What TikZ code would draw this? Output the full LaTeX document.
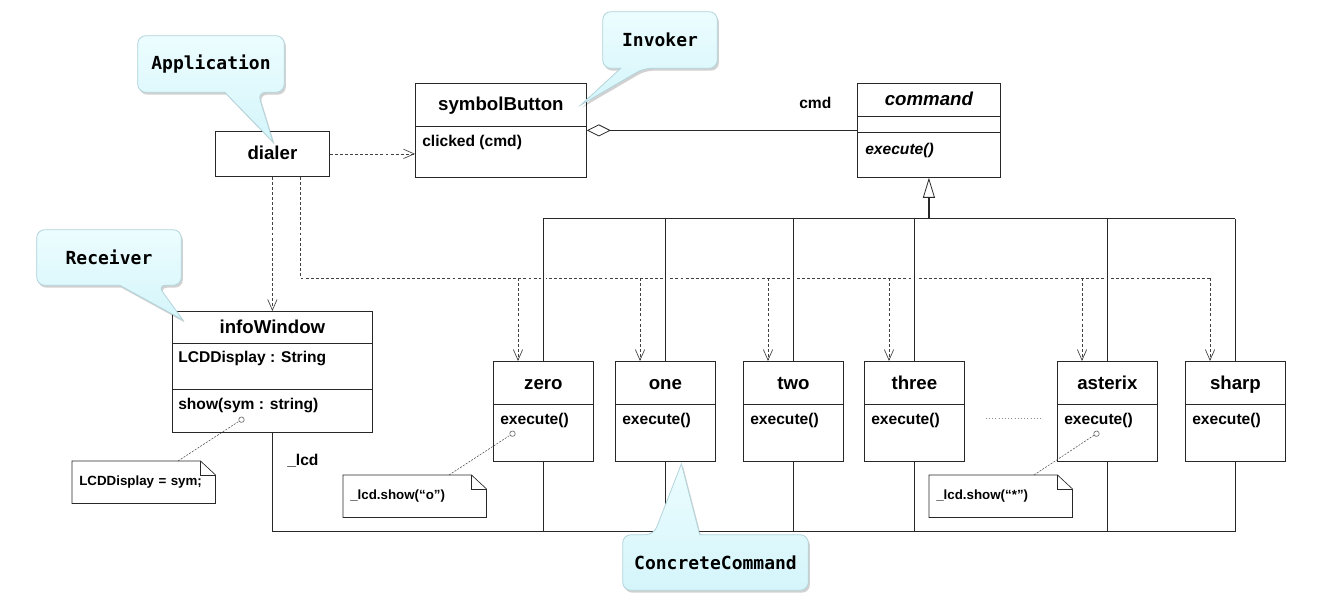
\documentclass[tikz,border=0pt]{standalone}
\usepackage{fontspec}
\setmainfont{Liberation Sans}
\newfontfamily\calloutfont{DejaVu Sans Mono}
\usetikzlibrary{arrows.meta,calc,shadows}

\definecolor{linecol}{RGB}{40,40,40}
\definecolor{calltop}{RGB}{236,253,255}
\definecolor{callbot}{RGB}{212,245,250}
\definecolor{callrim}{RGB}{178,212,218}

\tikzset{
  classbox/.style 2 args={draw=linecol, line width=0.6pt, anchor=north west, inner sep=0pt,
    minimum width=#1*0.75pt, minimum height=#2*0.75pt},
  divider/.style={draw=linecol, line width=0.6pt},
  clsname/.style={inner sep=0pt, text height=11pt, text depth=2pt, font=\fontsize{14}{16}\selectfont\bfseries},
  member/.style={inner sep=0pt, anchor=west, text height=9.5pt, text depth=2.5pt, font=\fontsize{11.7}{14}\selectfont\bfseries},
  dep/.style={draw=black!75, line width=0.5pt, dash pattern=on 2.2pt off 1.6pt},
  deparrow/.style={dep, -{Straight Barb[length=8pt,width=7pt]}},
  assoc/.style={draw=linecol, line width=0.6pt},
  halo/.style={preaction={draw=white, line width=3.5pt, shorten <=2pt, shorten >=2pt}},
  notebox/.style={anchor=north west, inner xsep=5.25pt, inner ysep=0pt, text width=96.75pt,
    minimum height=31.5pt, align=left, font=\fontsize{10}{12}\selectfont\bfseries},
  noteline/.style={draw=linecol, line width=0.5pt},
  attach/.style={draw=black!70, line width=0.4pt, dash pattern=on 1.5pt off 1pt,
    -{Circle[open,length=4.5pt,width=4.5pt]}},
  callbox/.style 2 args={inner sep=0pt, minimum width=#1*0.75pt, minimum height=#2*0.75pt},
  callout/.style={top color=calltop, bottom color=callbot, draw=callrim, line width=0.6pt,
    drop shadow={shadow xshift=1.2pt, shadow yshift=-1.8pt, opacity=0.18, fill=black}},
  calltext/.style={inner sep=0pt, font=\calloutfont\fontsize{13.5}{16}\selectfont\bfseries},
}

\begin{document}
\begin{tikzpicture}[x=0.75pt, y=-0.75pt]
\path[use as bounding box] (0,0) rectangle (1330,602);

% classes
\node[classbox={114}{45}] (dialer) at (215,131) {};
\node[clsname] (dialer-title) at (dialer.center) {dialer};

\node[classbox={171}{94}] (symbolButton) at (415,83) {};
\draw[divider] ($(symbolButton.north west)+(0,43)$) -- ($(symbolButton.north east)+(0,43)$);
\node[clsname] (symbolButton-title) at ($(symbolButton.north)+(0,22)$) {symbolButton};
\node[member] (symbolButton-op) at ($(symbolButton.north west)+(7,59)$) {clicked (cmd)};

\node[classbox={143}{94}] (command) at (857,83) {};
\draw[divider] ($(command.north west)+(0,33)$) -- ($(command.north east)+(0,33)$);
\draw[divider] ($(command.north west)+(0,49)$) -- ($(command.north east)+(0,49)$);
\node[clsname, font=\fontsize{14}{16}\selectfont\bfseries\itshape] (command-title) at ($(command.north)+(0,17)$) {command};
\node[member, font=\fontsize{11.7}{14}\selectfont\bfseries\itshape] (command-op) at ($(command.north west)+(8,67)$) {execute()};

\node[classbox={200}{121}] (infoWindow) at (172,311) {};
\draw[divider] ($(infoWindow.north west)+(0,32)$) -- ($(infoWindow.north east)+(0,32)$);
\draw[divider] ($(infoWindow.north west)+(0,78)$) -- ($(infoWindow.north east)+(0,78)$);
\node[clsname] (infoWindow-title) at ($(infoWindow.north)+(0,16)$) {infoWindow};
\node[member] (infoWindow-attr) at ($(infoWindow.north west)+(6,47)$) {LCDDisplay : String};
\node[member] (infoWindow-op) at ($(infoWindow.north west)+(6,94)$) {show(sym : string)};

\foreach \name/\x in {zero/493, one/615, two/743, three/864, asterix/1057, sharp/1185} {
  \node[classbox={100}{100}] (\name) at (\x,361) {};
  \draw[divider] ($(\name.north west)+(0,43)$) -- ($(\name.north east)+(0,43)$);
  \node[clsname] (\name-title) at ($(\name.north)+(0,22)$) {\name};
  \node[member] (\name-op) at ($(\name.north west)+(7,59)$) {execute()};
}
\draw[dotted, draw=black!45] ($(three.east)+(21,7)$) -- ($(asterix.west)+(-15,7)$);

% dependencies
\draw[deparrow] (dialer.east) -- (dialer.east -| symbolButton.west);
\draw[deparrow] (dialer.south) -- (infoWindow.north);
\draw[dep] ($(dialer.south)+(28,0)$) |- ($(sharp.north west)+(25,-83)$);
\foreach \name in {zero,one,two,three,asterix,sharp}
  \draw[deparrow] ($(\name.north west)+(25,-83)$) -- ($(\name.north west)+(25,0)$);

% aggregation and inheritance
\draw[assoc, {Diamond[open,length=18pt,width=9pt]}-] (symbolButton.east) -- (command.west);
\node[member] (cmd-label) at (799,104) {cmd};

\coordinate (topbus) at ($(command.south)+(0,41)$);
\coordinate (lowbus) at ($(infoWindow.south)+(0,99)$);
\foreach \name in {zero,one,two,three,asterix,sharp} {
  \draw[assoc, halo] (\name.north) -- (\name.north |- topbus);
  \draw[assoc] (\name.south) -- (\name.south |- lowbus);
}
\draw[assoc] (zero.north |- topbus) -- (sharp.north |- topbus);
\draw[assoc, line width=1.3pt, -{Triangle[open,length=15pt,width=9pt,line width=0.6pt]}] (topbus) -- (command.south);
\draw[assoc] (infoWindow.south) -- (lowbus) -- (lowbus -| sharp.south);
\node[member] (lcd-label) at (287,461) {\_lcd};

% notes
\node[notebox] (lcdnote) at (72,461) {LCDDisplay = sym;};
\node[notebox] (zeronote) at (343,475) {\_lcd.show(“o”)};
\node[notebox] (starnote) at (929,475) {\_lcd.show(“*”)};
\foreach \n in {lcdnote,zeronote,starnote} {
  \draw[noteline] (\n.north west) -- ($(\n.north east)+(-15,0)$) -- ($(\n.north east)+(0,14)$)
    -- (\n.south east) -- (\n.south west) -- cycle;
  \draw[noteline] ($(\n.north east)+(-15,0)$) -- ++(0,14) -- ++(15,0);
}
\coordinate (showpin) at ($(infoWindow.north west)+(72,107)$);
\coordinate (zeropin) at ($(zero.north west)+(22,71)$);
\coordinate (starpin) at ($(asterix.north west)+(42,71)$);
\draw[attach] ($(lcdnote.north west)+(106,0)$) -- (showpin);
\draw[attach] ($(zeronote.north west)+(106,0)$) -- (zeropin);
\draw[attach] ($(starnote.north west)+(105,0)$) -- (starpin);

% callouts
\node[callbox={146}{56}] (appcall) at (211,64) {};
\coordinate (apptip) at ($(dialer.north west)+(58,11)$);
\draw[callout, rounded corners=6pt] (appcall.north) -- (appcall.north east) -- (appcall.south east)
  -- ($(appcall.south west)+(120,0)$) [sharp corners] -- (apptip)
  -- ($(appcall.south west)+(87,0)$) [rounded corners=6pt] -- (appcall.south west)
  -- (appcall.north west) -- cycle;
\node[calltext] (apptext) at (appcall) {Application};

\node[callbox={114}{56}] (invcall) at (660,40) {};
\coordinate (invtip) at ($(symbolButton.north east)+(-6,22)$);
\draw[callout, rounded corners=6pt] (invcall.north) -- (invcall.north east) -- (invcall.south east)
  -- ($(invcall.south west)+(41,0)$) [sharp corners] -- (invtip)
  -- ($(invcall.south west)+(18,0)$) [rounded corners=6pt] -- (invcall.south west)
  -- (invcall.north west) -- cycle;
\node[calltext] (invtext) at (invcall) {Invoker};

\node[callbox={144}{55}] (reccall) at (109,257.5) {};
\coordinate (rectip) at ($(infoWindow.north west)+(11,9)$);
\draw[callout, rounded corners=6pt] (reccall.north) -- (reccall.north east) -- (reccall.south east)
  -- ($(reccall.south west)+(121,0)$) [sharp corners] -- (rectip)
  -- ($(reccall.south west)+(83,0)$) [rounded corners=6pt] -- (reccall.south west)
  -- (reccall.north west) -- cycle;
\node[calltext] (rectext) at (reccall) {Receiver};

\node[callbox={185}{55}] (concall) at (715.5,562.5) {};
\coordinate (contip) at ($(one.south)+(16,2)$);
\draw[callout, rounded corners=6pt] (concall.south) -- (concall.south west) -- (concall.north west)
  -- ($(concall.north west)+(31,0)$) [sharp corners] -- (contip)
  -- ($(concall.north west)+(77,0)$) [rounded corners=6pt] -- (concall.north east)
  -- (concall.south east) -- cycle;
\node[calltext] (context) at (concall) {ConcreteCommand};
\end{tikzpicture}
\end{document}
